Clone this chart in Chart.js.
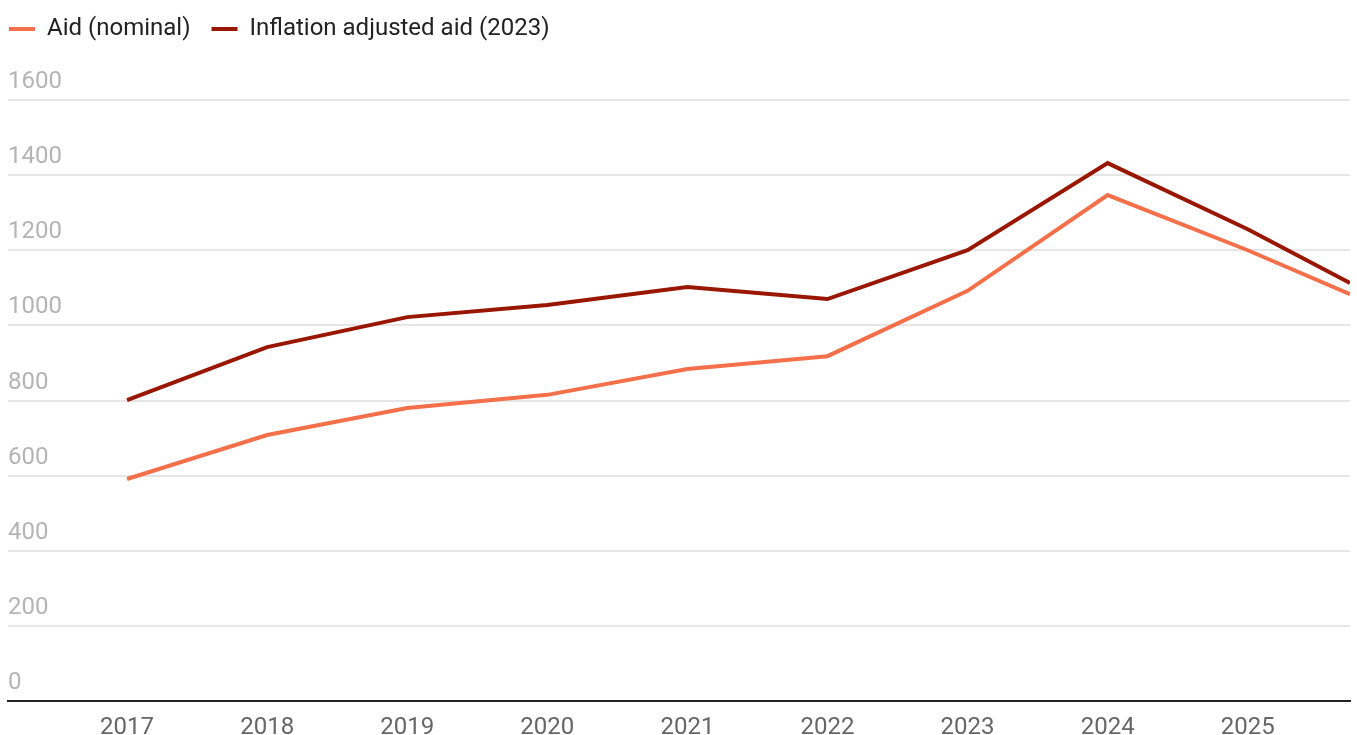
<!DOCTYPE html>
<html>
<head>
<meta charset="utf-8">
<script src="https://cdn.jsdelivr.net/npm/chart.js@4.4.1/dist/chart.umd.min.js"></script>
<style>
  html, body { margin: 0; padding: 0; background: #fff; }
</style>
</head>
<body>
<canvas id="aidChart" width="1357" height="735"></canvas>
<script>
// tick labels on the x axis
const years = [2017, 2018, 2019, 2020, 2021, 2022, 2023, 2024, 2025];
// x positions of the points (the last one sits at the right edge, part way into the year)
const pointYears = [2017, 2018, 2019, 2020, 2021, 2022, 2023, 2024, 2025, 2025.73];
const aidNominal = [591, 708, 780, 815, 884, 918, 1092, 1347, 1200, 1083];
const aidAdjusted = [801, 942, 1022, 1054, 1102, 1070, 1200, 1432, 1256, 1113];
const yTicks = [0, 200, 400, 600, 800, 1000, 1200, 1400, 1600];

const toPoints = vals => vals.map((v, i) => ({ x: pointYears[i], y: v }));

// push the plot down below the legend
const legendGap = {
    id: 'legendGap',
    beforeInit(chart) {
        const fit = chart.legend.fit;
        chart.legend.fit = function () {
            fit.call(this);
            this.height += 49;
        };
    }
};

new Chart(document.getElementById('aidChart'), {
    type: 'line',
    data: {
        datasets: [{
            label: 'Aid (nominal)',
            data: toPoints(aidNominal),
            borderColor: '#f4704b',
            backgroundColor: '#f4704b',
            borderWidth: 4,
            pointRadius: 0,
            tension: 0
        }, {
            label: 'Inflation adjusted aid (2023)',
            data: toPoints(aidAdjusted),
            borderColor: '#991600',
            backgroundColor: '#991600',
            borderWidth: 4,
            pointRadius: 0,
            tension: 0
        }]
    },
    options: {
        responsive: false,
        animation: false,
        layout: { padding: { left: -12, right: 7, top: -4, bottom: -20 } },
        plugins: {
            tooltip: { enabled: false },
            legend: {
                align: 'start',
                labels: {
                    usePointStyle: true,
                    pointStyle: 'line',
                    pointStyleWidth: 26,
                    padding: 21,
                    color: '#222',
                    font: { family: 'Roboto', size: 24 }
                }
            }
        },
        scales: {
            x: {
                type: 'linear',
                min: 2016.15,
                max: 2025.73,
                afterBuildTicks: axis => { axis.ticks = years.map(v => ({ value: v })); },
                grid: { display: false, drawTicks: false },
                border: { display: true, color: '#222', width: 2 },
                ticks: {
                    padding: 15,
                    color: '#666',
                    font: { family: 'Roboto', size: 24, lineHeight: 1 },
                    callback: v => String(v)
                }
            },
            y: {
                min: 0,
                max: 1600,
                afterBuildTicks: axis => { axis.ticks = yTicks.map(v => ({ value: v })); },
                afterFit: axis => { axis.width = 20; },
                grid: { color: '#e6e6e6', lineWidth: 2, drawTicks: false },
                border: { display: false },
                ticks: {
                    mirror: true,
                    padding: 0,
                    labelOffset: -18,
                    color: '#b4b4b4',
                    font: { family: 'Roboto', size: 24 },
                    callback: v => String(v)
                }
            }
        }
    },
    plugins: [legendGap]
});
</script>
</body>
</html>
